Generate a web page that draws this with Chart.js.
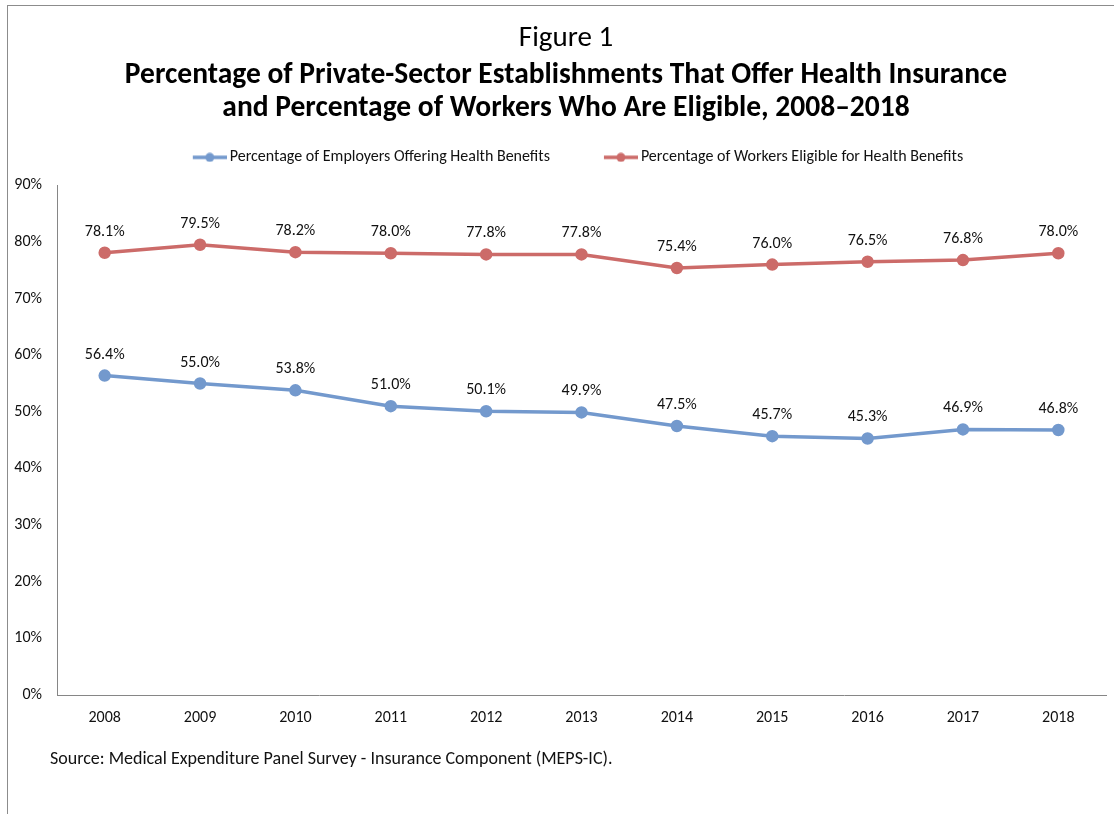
<!DOCTYPE html>
<html>
<head>
<meta charset="utf-8">
<script src="https://cdn.jsdelivr.net/npm/chart.js@4.4.1/dist/chart.umd.min.js"></script>
<style>
  html, body { margin: 0; padding: 0; background: #fff; }
  #wrap { position: relative; width: 1114px; height: 814px; overflow: hidden; }
  #frame { position: absolute; left: 7px; top: 5px; width: 1120px; height: 830px; border: 1px solid #8c8c8c; }
  canvas { position: absolute; left: 0; top: 0; }
  #source { position: absolute; left: 50px; top: 747px; font: 18px Carlito, Lato, sans-serif; line-height: 22px; color: #111; }
</style>
</head>
<body>
<div id="wrap">
  <div id="frame"></div>
  <canvas id="chart" width="1114" height="814"></canvas>
  <div id="source">Source: Medical Expenditure Panel Survey - Insurance Component (MEPS-IC).</div>
</div>
<script>
const FONT = 'Carlito, Lato, sans-serif'

const years = ['2008', '2009', '2010', '2011', '2012', '2013', '2014', '2015', '2016', '2017', '2018']
const employersOffering = [56.4, 55.0, 53.8, 51.0, 50.1, 49.9, 47.5, 45.7, 45.3, 46.9, 46.8]
const workersEligible = [78.1, 79.5, 78.2, 78.0, 77.8, 77.8, 75.4, 76.0, 76.5, 76.8, 78.0]

const BLUE = '#7399cd'
const RED = '#cc6b69'

// legend marker: short line with a dot, pushed to the right so it sits
// close to its text and leaves room before it
function lineMarker(color) {
  const c = document.createElement('canvas')
  c.width = 83
  c.height = 10
  const g = c.getContext('2d')
  g.strokeStyle = color
  g.lineWidth = 3.5
  g.beginPath()
  g.moveTo(49, 5)
  g.lineTo(83, 5)
  g.stroke()
  g.fillStyle = color
  g.beginPath()
  g.arc(66, 5, 4.5, 0, Math.PI * 2)
  g.fill()
  return c
}

// value labels above each point
const valueLabels = {
  id: 'valueLabels',
  afterDatasetsDraw(chart) {
    const ctx = chart.ctx
    ctx.save()
    ctx.font = '16px ' + FONT
    ctx.fillStyle = '#111'
    ctx.textAlign = 'center'
    ctx.textBaseline = 'middle'
    chart.data.datasets.forEach((ds, i) => {
      chart.getDatasetMeta(i).data.forEach((pt, j) => {
        ctx.fillText(ds.data[j].toFixed(1) + '%', pt.x, pt.y - 21)
      })
    })
    ctx.restore()
  }
}

// title lines are centred a little right of the canvas middle
const titleNudge = {
  id: 'titleNudge',
  afterLayout(chart) {
    chart.boxes.forEach(b => {
      if (b.position === 'top' && !b.axis && b !== chart.legend) {
        b.left += 20
        b.width -= 20
      }
    })
  }
}

const ctx = document.getElementById('chart').getContext('2d')

new Chart(ctx, {
  type: 'line',
  data: {
    labels: years,
    datasets: [
      {
        label: 'Percentage of Employers Offering Health Benefits',
        data: employersOffering,
        borderColor: BLUE,
        backgroundColor: BLUE,
        borderWidth: 3.5,
        pointRadius: 4.5,
        tension: 0
      },
      {
        label: 'Percentage of Workers Eligible for Health Benefits',
        data: workersEligible,
        borderColor: RED,
        backgroundColor: RED,
        borderWidth: 3.5,
        pointRadius: 4.5,
        tension: 0
      }
    ]
  },
  options: {
    responsive: false,
    animation: false,
    layout: {
      padding: { top: 21, left: 5, right: 7, bottom: 80 }
    },
    scales: {
      x: {
        offset: true,
        grid: { display: false, drawTicks: false },
        border: { color: '#868686', width: 1 },
        ticks: { color: '#111', font: { family: FONT, size: 16 }, padding: 13 },
        afterFit(scale) { scale.height = 39 }
      },
      // empty strip between the legend and the plot
      gap: {
        type: 'category',
        position: 'top',
        grid: { display: false, drawTicks: false },
        border: { display: false },
        ticks: { display: false },
        afterFit(scale) { scale.height = 10 }
      },
      y: {
        min: 0,
        max: 90,
        grid: { display: false, drawTicks: false },
        border: { color: '#868686', width: 1 },
        ticks: {
          stepSize: 10,
          color: '#111',
          font: { family: FONT, size: 16 },
          padding: 15,
          callback: v => v + '%'
        },
        afterFit(scale) { scale.width = 52 }
      }
    },
    plugins: {
      title: {
        display: true,
        text: 'Figure 1',
        color: '#000',
        font: { family: FONT, size: 29, weight: 'normal', lineHeight: 1.2 },
        padding: { top: 0, bottom: 3 }
      },
      subtitle: {
        display: true,
        text: [
          'Percentage of Private-Sector Establishments That Offer Health Insurance',
          'and Percentage of Workers Who Are Eligible, 2008\u20132018'
        ],
        color: '#000',
        font: { family: FONT, size: 29.5, weight: 'bold', lineHeight: 1.119 },
        padding: { top: 0, bottom: 14.5 }
      },
      legend: {
        display: true,
        labels: {
          usePointStyle: true,
          pointStyleWidth: 73,
          padding: 10,
          color: '#111',
          font: { family: FONT, size: 16 },
          generateLabels(chart) {
            return chart.data.datasets.map((ds, i) => ({
              text: ds.label,
              pointStyle: lineMarker(ds.borderColor),
              fillStyle: ds.borderColor,
              strokeStyle: ds.borderColor,
              lineWidth: 0,
              hidden: false,
              datasetIndex: i,
              fontColor: '#111'
            }))
          }
        }
      },
      tooltip: { enabled: false }
    }
  },
  plugins: [valueLabels, titleNudge]
})
</script>
</body>
</html>
